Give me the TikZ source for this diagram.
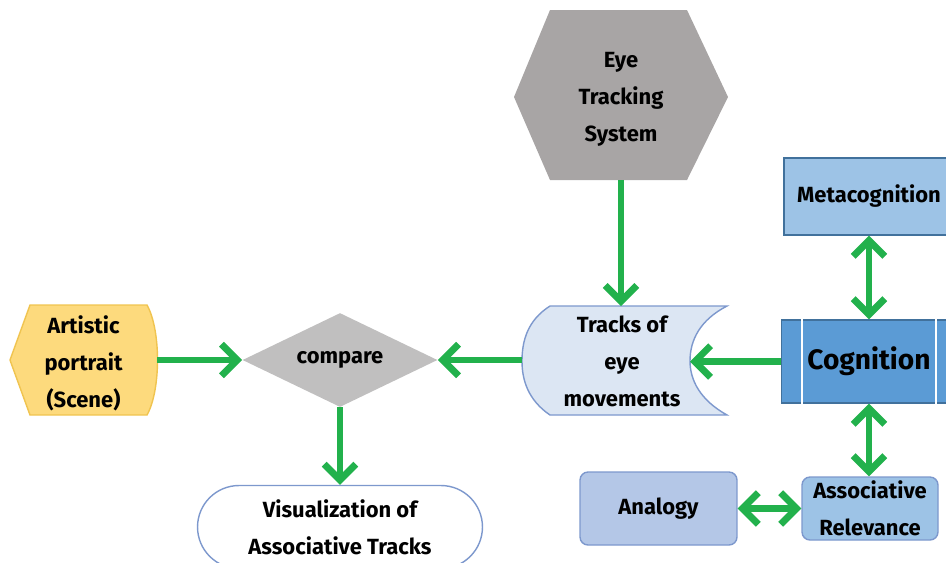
\documentclass[tikz,border=0pt]{standalone}
\usepackage{fontspec}
\setmainfont{Fira Sans}
\usetikzlibrary{arrows.meta,shapes.geometric,shapes.misc}

\definecolor{arrowgreen}{RGB}{34,177,76}
\definecolor{eyegray}{RGB}{168,165,165}
\definecolor{cmpgray}{RGB}{192,191,191}
\definecolor{artfill}{RGB}{253,218,125}
\definecolor{artline}{RGB}{240,196,80}
\definecolor{trkfill}{RGB}{220,230,243}
\definecolor{paleline}{RGB}{125,152,205}
\definecolor{cogfill}{RGB}{91,155,213}
\definecolor{metafill}{RGB}{157,195,230}
\definecolor{anafill}{RGB}{180,199,231}
\definecolor{darkline}{RGB}{65,113,156}

\begin{document}
\begin{tikzpicture}[x=0.02cm, y=-0.02cm,
  every node/.style={font=\bfseries\fontsize{12.5}{21}\selectfont, align=center, inner sep=0pt},
  boxnode/.style={rectangle, draw=darkline, line width=0.8pt},
  link/.style={draw=arrowgreen, line width=3.9pt, -{Straight Barb[length=9pt,width=18pt]}},
  twoway/.style={link, {Straight Barb[length=9pt,width=18pt]}-{Straight Barb[length=9pt,width=18pt]}}]
\useasboundingbox (0,0) rectangle (946,562);

% shapes without a ready node shape
\fill[eyegray] (550,10) -- (687,10) -- (728,97) -- (687,180) -- (550,180) -- (514,97) -- cycle;
\filldraw[fill=artfill, draw=artline, line width=0.8pt] (10,360) -- (30,305) -- (147,305) .. controls (161,330) and (161,390) .. (147,415) -- (30,415) -- cycle;
\filldraw[fill=trkfill, draw=paleline, line width=0.8pt] (550,306) -- (727,306) .. controls (700,320) and (690,340) .. (690,361) .. controls (690,380) and (700,400) .. (727,415) -- (550,415) .. controls (528,400) and (522,380) .. (522,361) .. controls (522,340) and (528,320) .. (550,306) -- cycle;

\node (eye) at (621,99) [minimum width=4.28cm, minimum height=3.24cm] {Eye\\Tracking\\System};
\node (art) at (83.5,363) [minimum width=2.94cm, minimum height=2.2cm] {Artistic\\portrait\\(Scene)};
\node (trk) at (622,361) [minimum width=4cm, minimum height=2.18cm] {Tracks of\\eye\\movements};
\coordinate (trkin) at (690,361);
\node (cmp) at (340,360) [diamond, fill=cmpgray, aspect=2.07, minimum width=3.9cm, minimum height=1.88cm] {compare};
\node (vis) at (340,527) [rounded rectangle, draw=paleline, line width=0.8pt, fill=white, minimum width=5.7cm, minimum height=1.66cm] {Visualization of\\Associative Tracks};

\node (meta) at (869,196.5) [boxnode, fill=metafill, minimum width=3.4cm, minimum height=1.54cm] {Metacognition};
\node (cog) at (869,361.5) [boxnode, fill=cogfill, minimum width=3.5cm, minimum height=1.66cm, font=\bfseries\fontsize{16}{20}\selectfont] {Cognition};
\draw[white, line width=1.2pt] ([xshift=0.42cm]cog.north west) -- ([xshift=0.42cm]cog.south west);
\draw[white, line width=1.2pt] ([xshift=-0.42cm]cog.north east) -- ([xshift=-0.42cm]cog.south east);
\node (ana) at (658.5,508.5) [boxnode, draw=paleline, fill=anafill, rounded corners=0.16cm, minimum width=3.14cm, minimum height=1.46cm] {Analogy};
\node (rel) at (870,508.5) [boxnode, draw=paleline, fill=metafill, rounded corners=0.16cm, minimum width=2.72cm, minimum height=1.26cm] {Associative\\Relevance};

\draw[link] (eye.south) -- (eye.south |- trk.north);
\draw[link] (cog.west) -- (trkin |- cog.west);
\draw[link] (trk.west |- cmp.east) -- (cmp.east);
\draw[link] (art.east |- cmp.west) -- (cmp.west);
\draw[link] (cmp.south) -- (vis.north);
\draw[twoway] (meta.south) -- (cog.north);
\draw[twoway] (cog.south) -- (cog.south |- rel.north);
\draw[twoway] (ana.east) -- (rel.west);
\end{tikzpicture}
\end{document}
